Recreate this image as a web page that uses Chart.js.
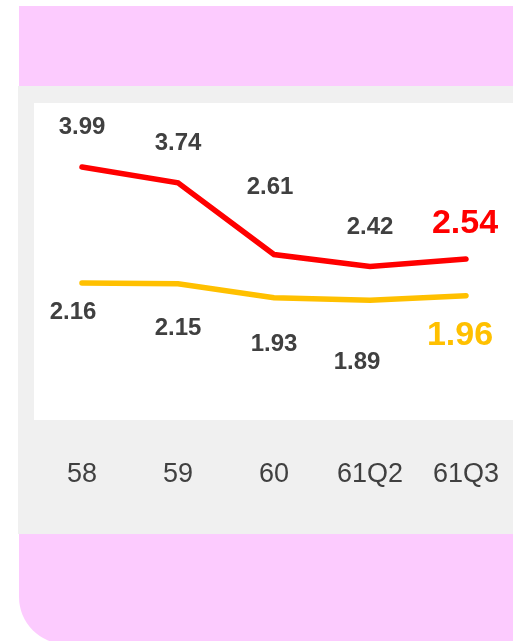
<!DOCTYPE html>
<html>
<head>
<meta charset="utf-8">
<script src="https://cdn.jsdelivr.net/npm/chart.js@4/dist/chart.umd.min.js"></script>
<style>
  html, body { margin: 0; padding: 0; background: #fff; overflow: hidden; }
  body { width: 513px; height: 641px; position: relative; }
  .pink-top { position: absolute; left: 19px; top: 6px; width: 494px; height: 80px; background: #fccbfe; }
  .grey { position: absolute; left: 18px; top: 86px; width: 495px; height: 448px; background: #f0f0f0; overflow: hidden; }
  .pink-bottom { position: absolute; left: 19px; top: 534px; width: 494px; height: 110px; background: #fccbfe; border-bottom-left-radius: 47px; }
  #wrap { position: absolute; left: 0; top: 0; width: 496px; height: 448px; }
</style>
</head>
<body>
<div class="pink-top"></div>
<div class="grey">
  <div id="wrap"><canvas id="lineChart"></canvas></div>
</div>
<div class="pink-bottom"></div>

<script>
// data
const periods = ['58', '59', '60', '61Q2', '61Q3'];
const redValues = [3.99, 3.74, 2.61, 2.42, 2.54];
const yellowValues = [2.16, 2.15, 1.93, 1.89, 1.96];

// label offsets from each point (px), last one is highlighted
const redLabelOffsets = [[0, -40], [0, -40], [-4, -67], [0, -39], [-1, -35]];
const yellowLabelOffsets = [[-9, 29], [0, 45], [0, 47], [-13, 62], [-6, 40]];

const FONT = "'Liberation Sans', Arial, sans-serif";

// draws value labels next to points
const valueLabels = {
    id: 'valueLabels',
    afterDatasetsDraw(chart) {
        const ctx = chart.ctx;
        chart.data.datasets.forEach((ds, di) => {
            const meta = chart.getDatasetMeta(di);
            meta.data.forEach((pt, i) => {
                const off = ds.labelOffsets[i];
                const last = i === ds.data.length - 1;
                ctx.save();
                ctx.font = 'bold ' + (last ? 34 : 24) + 'px ' + FONT;
                ctx.fillStyle = last ? ds.borderColor : '#404040';
                ctx.textAlign = 'center';
                ctx.textBaseline = 'middle';
                ctx.fillText(ds.data[i].toFixed(2), pt.x + off[0], pt.y + off[1]);
                ctx.restore();
            });
        });
    }
};

// white plot box
const plotBg = {
    id: 'plotBg',
    beforeDraw(chart) {
        const a = chart.chartArea;
        chart.ctx.save();
        chart.ctx.fillStyle = '#ffffff';
        chart.ctx.fillRect(a.left, a.top, a.right - a.left, a.bottom - a.top);
        chart.ctx.restore();
    }
};

const ctx = document.getElementById('lineChart').getContext('2d');
new Chart(ctx, {
    type: 'line',
    data: {
        labels: periods,
        datasets: [{
            data: redValues,
            borderColor: '#ff0000',
            borderWidth: 5.5,
            labelOffsets: redLabelOffsets
        }, {
            data: yellowValues,
            borderColor: '#ffc000',
            borderWidth: 5.5,
            labelOffsets: yellowLabelOffsets
        }]
    },
    options: {
        responsive: true,
        maintainAspectRatio: false,
        animation: false,
        layout: { padding: { left: 16, top: 17, right: 0, bottom: 0 } },
        elements: {
            point: { radius: 0 },
            line: { tension: 0, borderCapStyle: 'round', borderJoinStyle: 'miter', fill: false }
        },
        plugins: { legend: { display: false }, tooltip: { enabled: false } },
        scales: {
            x: {
                offset: true,
                border: { display: false },
                grid: { display: false, drawTicks: false },
                ticks: { color: '#404040', padding: 38, maxRotation: 0, font: { family: FONT, size: 27 } },
                afterFit(scale) {
                    scale.height = 114;
                    scale.paddingLeft = 0;
                    scale.paddingRight = 0;
                }
            },
            y: { display: false, min: 0, max: 5 }
        }
    },
    plugins: [plotBg, valueLabels]
});
</script>
</body>
</html>
